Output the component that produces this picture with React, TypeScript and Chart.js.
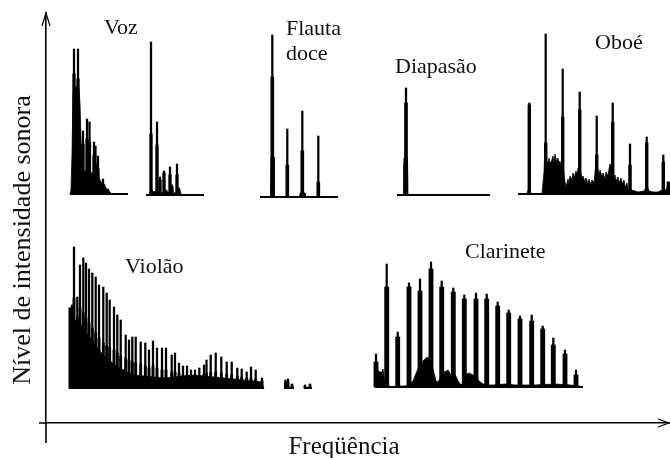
import { useEffect, useRef } from "react";
import { Chart, registerables } from "chart.js";

Chart.register(...registerables);

// ---------------- DATA ----------------
// Each spectrum: frequency offsets inside its panel, peak level above the panel baseline,
// level of the thick lower part of each peak, and the broadband "floor" profile.

// Voz (first spectrum)
const vozAFreq = [4, 8, 13, 17, 19.5, 24, 25.5, 28, 33, 38];
const vozAPeak = [145, 145, 63, 75, 72, 52, 48, 38, 15, 5];
const vozABody = [120, 115, 50, 55, 52, 38, 30, 25, 10, 3];
const vozAFloorFreq = [0, 1, 2, 3, 4, 6, 8, 9, 10, 11, 12, 13, 16, 20, 24, 28, 31, 34, 36, 38, 40, 42];
const vozAFloorLevel = [0, 4, 40, 100, 110, 105, 110, 105, 90, 55, 35, 25, 22, 22, 20, 18, 12, 10, 6, 4, 2, 0];

// Voz (second spectrum)
const vozBFreq = [5, 11, 14, 18, 20, 24, 26, 31, 33];
const vozBPeak = [153, 73, 18, 24, 5, 28, 10, 31, 7];
const vozBBody = [61, 50, 15, 22, 4, 20, 8, 20, 5];
const vozBFloorFreq = [0, 3, 4, 6, 8, 10, 13, 16, 22, 28, 34, 36];
const vozBFloorLevel = [0, 0, 3, 5, 3, 4, 3, 2, 3, 2, 3, 0];

// Flauta doce
const flautaFreq = [10.3, 25.3, 40.3, 56.3];
const flautaPeak = [162, 68, 86, 61];
const flautaBody = [120, 32, 46, 15];
const flautaFloorFreq = [-2, 8.5, 9, 12, 12.5, 37.5, 38, 43, 43.5, 76];
const flautaFloorLevel = [0, 0, 40, 40, 0, 0, 4, 4, 0, 0];

// Diapasão
const diapasaoFreq = [9];
const diapasaoPeak = [107];
const diapasaoBody = [92];
const diapasaoFloorFreq = [0, 6, 6.5, 7, 10.5, 11, 93];
const diapasaoFloorLevel = [0, 0, 26, 37, 37, 0, 0];

// Oboé
const oboeFreq = [11.3, 27.7, 44.7, 61.7, 78.7, 94.7, 112, 128.7, 145.3, 150.3];
const oboePeak = [91, 160, 125, 102, 78, 91, 50, 57, 39, 12];
const oboeBody = [89, 51, 77, 84, 39, 72, 29, 51, 32, 12];
const oboeFloorFreq = [0, 9, 10, 12, 13, 24, 26, 27, 28.5, 30, 31, 32, 33.5, 35, 36, 37, 38.5, 40, 41, 42, 43, 44, 46, 47, 48, 50, 51, 52, 54, 55, 56.5, 58, 59, 60, 63, 64, 65, 67, 68, 70, 71, 73, 74, 76, 78, 80, 81, 82, 84, 85, 87, 88, 90, 91, 92, 94, 96, 97, 98, 100, 101, 103, 104, 106, 107, 109, 110, 113, 117, 120, 126, 129, 131, 135, 140, 144, 147, 150, 152];
const oboeFloorLevel = [0, 0, 4, 4, 0, 0, 22, 48, 34, 30, 36, 31, 33, 38, 31, 40, 33, 36, 30, 33, 26, 38, 20, 12, 7, 15, 10, 18, 14, 21, 17, 23, 19, 26, 21, 15, 18, 12, 16, 10, 15, 9, 14, 11, 32, 24, 18, 24, 17, 21, 15, 22, 18, 25, 30, 24, 16, 19, 13, 17, 11, 16, 10, 14, 7, 11, 5, 4, 3, 2, 3, 8, 3, 2, 2, 4, 3, 8, 2];

// Violão
const violaoFreq = [1, 3, 5, 8.3, 11, 14.3, 17, 20, 23.3, 26.7, 30, 34.3, 37.7, 40.7, 45, 48.3, 51.7, 56.7, 60, 63.3, 66.7, 71.7, 76.3, 80, 84, 88, 93, 97, 102.7, 106, 110, 114, 118, 122, 126, 130.3, 135, 137.5, 141.7, 146.7, 152.3, 157.7, 162.7, 168.3, 172.7, 177.7, 182, 186.7, 193, 216.5, 219, 223, 236, 241];
const violaoPeak = [80, 83, 141, 91, 123, 130, 125, 119, 115, 111, 103, 101, 95, 88, 81, 73, 68, 53, 48, 51, 51, 46, 45, 38, 47, 40, 40, 40, 33, 35, 25, 22, 22, 18, 18, 20, 23, 28, 33, 35, 31, 26, 26, 20, 19, 16, 21, 18, 10, 8, 9, 4, 3, 4];
const violaoBody = [80, 70, 90, 70, 80, 75, 70, 65, 60, 55, 50, 45, 42, 40, 38, 35, 32, 30, 28, 26, 25, 24, 22, 20, 22, 20, 18, 18, 16, 16, 15, 13, 13, 12, 12, 12, 14, 15, 16, 16, 15, 14, 13, 12, 11, 10, 10, 9, 7, 6, 6, 3, 2, 3];
const violaoFloorFreq = [0, 0.5, 2, 5, 10, 15, 20, 25, 30, 35, 40, 45, 50, 55, 60, 65, 75, 85, 95, 105, 115, 125, 135, 145, 155, 165, 175, 185, 192, 195];
const violaoFloorLevel = [0, 75, 80, 68, 66, 58, 52, 45, 38, 32, 28, 24, 20, 18, 15, 13, 12, 11, 10, 11, 12, 13, 12, 11, 10, 9, 8, 7, 6, 0];

// Clarinete
const clarineteFreq = [1, 6, 11.7, 22.7, 34, 45, 56, 66.7, 78.3, 89.3, 101, 111.7, 122.7, 133.7, 145, 156.7, 167.7, 178.3, 190, 201];
const clarinetePeak = [33, 15, 123, 55, 104, 108, 125, 106, 99, 92, 94, 93, 85, 77, 71, 72, 61, 49, 37, 17];
const clarineteBody = [25, 12, 100, 50, 100, 96, 118, 100, 95, 88, 88, 88, 81, 74, 68, 66, 58, 42, 33, 12];
const clarineteFloorFreq = [0, 2, 3, 5, 7, 8, 9, 10, 13, 20, 24, 30, 33, 38, 42, 45, 48, 52, 55, 58, 61, 63, 66, 68, 70, 73, 76, 80, 83, 86, 88, 90, 94, 98, 101, 104, 108, 114, 118, 130, 140, 160, 180, 195, 204, 208];
const clarineteFloorLevel = [22, 24, 16, 15, 12, 18, 10, 4, 1, 0, 1, 1, 2, 6, 16, 22, 26, 30, 28, 18, 6, 5, 10, 16, 15, 17, 12, 13, 6, 2, 4, 12, 14, 12, 10, 6, 3, 2, 2, 3, 2, 2, 3, 2, 1, 0];

// ---------------- LAYOUT (panel origins, baselines, labels) ----------------
const PANELS = [
  { x0: 24, base: 229, spans: [[0, 58]], freq: vozAFreq, peak: vozAPeak, body: vozABody, ff: vozAFloorFreq, fl: vozAFloorLevel, bodyW: 2.6 },
  { x0: 100, base: 228, spans: [[0, 58]], freq: vozBFreq, peak: vozBPeak, body: vozBBody, ff: vozBFloorFreq, fl: vozBFloorLevel, bodyW: 2.6 },
  { x0: 216, base: 226, spans: [[-2, 76]], freq: flautaFreq, peak: flautaPeak, body: flautaBody, ff: flautaFloorFreq, fl: flautaFloorLevel, bodyW: 3 },
  { x0: 351, base: 228, spans: [[0, 93]], freq: diapasaoFreq, peak: diapasaoPeak, body: diapasaoBody, ff: diapasaoFloorFreq, fl: diapasaoFloorLevel, bodyW: 3 },
  { x0: 472, base: 229, spans: [[0, 152]], freq: oboeFreq, peak: oboePeak, body: oboeBody, ff: oboeFloorFreq, fl: oboeFloorLevel, bodyW: 2.8 },
  { x0: 23, base: 35, spans: [[0, 195], [215, 225], [235, 243]], freq: violaoFreq, peak: violaoPeak, body: violaoBody, ff: violaoFloorFreq, fl: violaoFloorLevel, bodyW: 2.2 },
  { x0: 329, base: 36, spans: [[0, 208]], freq: clarineteFreq, peak: clarinetePeak, body: clarineteBody, ff: clarineteFloorFreq, fl: clarineteFloorLevel, bodyW: 4.2 },
];

const LABELS = [
  { lines: ["Voz"], x: 58, y: 389 },
  { lines: ["Flauta", "doce"], x: 240, y: 388 },
  { lines: ["Diapasão"], x: 349, y: 350 },
  { lines: ["Oboé"], x: 549, y: 374 },
  { lines: ["Violão"], x: 79, y: 150 },
  { lines: ["Clarinete"], x: 419, y: 165 },
];

const X_TITLE = "Freqüência";
const Y_TITLE = "Nível de intensidade sonora";

const FONT = '"Liberation Serif", "Times New Roman", serif';
const INK = "#000";

const extrasPlugin = {
  id: "extras",
  afterDraw(chart: any) {
    const { ctx, chartArea: a, scales } = chart;
    const xs = scales.x;
    const ys = scales.y;
    ctx.save();
    ctx.strokeStyle = INK;
    ctx.lineWidth = 1.6;
    ctx.beginPath();
    ctx.moveTo(a.left, a.bottom);
    ctx.lineTo(a.left, a.bottom + 20);
    ctx.moveTo(a.left - 7, a.bottom);
    ctx.lineTo(a.left, a.bottom);
    ctx.stroke();
    ctx.lineWidth = 1.2;
    ctx.beginPath();
    ctx.moveTo(a.left - 4, a.top + 13);
    ctx.lineTo(a.left, a.top);
    ctx.lineTo(a.left + 4, a.top + 13);
    ctx.moveTo(a.right - 12, a.bottom - 4);
    ctx.lineTo(a.right - 1, a.bottom);
    ctx.lineTo(a.right - 12, a.bottom + 4);
    ctx.stroke();

    ctx.fillStyle = "#111";
    ctx.font = `22px ${FONT}`;
    ctx.textAlign = "left";
    ctx.textBaseline = "alphabetic";
    for (const l of LABELS) {
      l.lines.forEach((t, i) => {
        ctx.fillText(t, xs.getPixelForValue(l.x), ys.getPixelForValue(l.y) + i * 25);
      });
    }

    // axis titles
    ctx.font = `25px ${FONT}`;
    ctx.textAlign = "center";
    ctx.fillText(X_TITLE, a.left + 298, a.bottom + 31);
    ctx.save();
    ctx.translate(a.left - 16, a.bottom - 183);
    ctx.rotate(-Math.PI / 2);
    ctx.font = `26px ${FONT}`;
    ctx.fillText(Y_TITLE, 0, 0);
    ctx.restore();
    ctx.restore();
  },
};

export default function App() {
  const ref = useRef<HTMLCanvasElement | null>(null);

  useEffect(() => {
    if (!ref.current) return;
    const datasets: any[] = [];
    for (const p of PANELS) {
      datasets.push({
        type: "line",
        data: p.ff.map((f, i) => ({ x: p.x0 + f, y: p.base + p.fl[i] })),
        borderColor: INK,
        backgroundColor: INK,
        borderWidth: 0.8,
        pointRadius: 0,
        tension: 0,
        fill: { value: p.base },
        order: 3,
      });
      datasets.push({
        type: "bar",
        data: p.freq.map((f, i) => ({ x: p.x0 + f, y: [p.base, p.base + p.body[i]] })),
        backgroundColor: INK,
        borderWidth: 0,
        barThickness: p.bodyW,
        grouped: false,
        order: 2,
      });
      datasets.push({
        type: "bar",
        data: p.freq.map((f, i) => ({ x: p.x0 + f, y: [p.base, p.base + p.peak[i]] })),
        backgroundColor: INK,
        borderWidth: 0,
        barThickness: 1.6,
        grouped: false,
        order: 2,
      });
      for (const s of p.spans) {
        datasets.push({
          type: "line",
          data: [
            { x: p.x0 + s[0], y: p.base },
            { x: p.x0 + s[1], y: p.base },
          ],
          borderColor: INK,
          borderWidth: 2,
          pointRadius: 0,
          fill: false,
          order: 1,
        });
      }
    }

    const chart = new Chart(ref.current, {
      type: "bar",
      data: { datasets },
      options: {
        responsive: false,
        animation: false,
        devicePixelRatio: 1,
        events: [],
        layout: { padding: { left: 46, right: 0, top: 13, bottom: 35 } },
        plugins: { legend: { display: false }, tooltip: { enabled: false } },
        scales: {
          x: {
            type: "linear",
            min: 0,
            max: 624,
            offset: false,
            grid: { display: false, drawTicks: false },
            ticks: { display: false },
            border: { display: true, color: INK, width: 1.6 },
            title: { display: false },
          },
          y: {
            type: "linear",
            min: 0,
            max: 410,
            grid: { display: false, drawTicks: false },
            ticks: { display: false },
            border: { display: true, color: INK, width: 1.6 },
            title: { display: false },
          },
        },
      } as any,
      plugins: [extrasPlugin],
    });
    return () => chart.destroy();
  }, []);

  return (
    <div style={{ position: "fixed", left: 0, top: 0, width: 670, height: 458, background: "#fff" }}>
      <canvas ref={ref} width={670} height={458} style={{ display: "block", width: 670, height: 458 }} />
    </div>
  );
}
